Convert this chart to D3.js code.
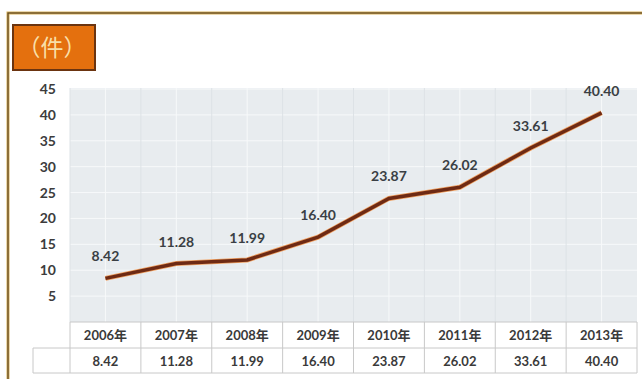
<!DOCTYPE html>
<html>
<head>
<meta charset="utf-8">
<script src="https://cdn.jsdelivr.net/npm/d3@7"></script>
<style>
  body { margin: 0; background: #fff; }
  svg { display: block; }
</style>
</head>
<body>
<div id="chart"></div>
<script>
// data
const years = ["2006年", "2007年", "2008年", "2009年", "2010年", "2011年", "2012年", "2013年"];
const counts = [8.42, 11.28, 11.99, 16.40, 23.87, 26.02, 33.61, 40.40];
const yTicks = [5, 10, 15, 20, 25, 30, 35, 40, 45];
const unitLabel = "（件）";

const W = 642, H = 379;
const font = "Lato, 'Noto Sans CJK SC', sans-serif";

const svg = d3.select("#chart").append("svg")
  .attr("width", W)
  .attr("height", H);

// outer frame
svg.append("rect")
  .attr("x", 8).attr("y", 13)
  .attr("width", W).attr("height", H)
  .attr("fill", "#fff")
  .attr("stroke", "#d9b25a").attr("stroke-width", 3);
svg.append("rect")
  .attr("x", 8).attr("y", 13)
  .attr("width", W).attr("height", H)
  .attr("fill", "none")
  .attr("stroke", "#5a4422").attr("stroke-width", 1.2);

const plotLeft = 70, plotRight = 637, plotTop = 88, plotBottom = 322;

const x = d3.scaleBand()
  .domain(years)
  .range([plotLeft, plotRight]);

const y = d3.scaleLinear()
  .domain([0, 45])
  .range([plotBottom, 89]);

// plot background
svg.append("rect")
  .attr("x", plotLeft).attr("y", plotTop)
  .attr("width", plotRight - plotLeft).attr("height", plotBottom - plotTop)
  .attr("fill", "#e8ecef");

// grid lines
const grid = svg.append("g").attr("stroke", "#f7f9fa").attr("stroke-width", 1);
grid.selectAll("line.h")
  .data(yTicks)
  .enter().append("line")
  .attr("x1", plotLeft).attr("x2", plotRight)
  .attr("y1", d => y(d)).attr("y2", d => y(d));
grid.selectAll("line.v")
  .data(years)
  .enter().append("line")
  .attr("x1", d => x(d) + x.bandwidth() / 2).attr("x2", d => x(d) + x.bandwidth() / 2)
  .attr("y1", plotTop).attr("y2", plotBottom);
grid.selectAll("line.b")
  .data(years)
  .enter().append("line")
  .attr("x1", d => x(d)).attr("x2", d => x(d))
  .attr("y1", plotTop).attr("y2", plotBottom)
  .attr("stroke", "#dde2e6");

// y axis labels
const yAxis = svg.append("g")
  .attr("transform", `translate(56,0)`)
  .call(d3.axisLeft(y).tickValues(yTicks).tickSize(0).tickPadding(0));
yAxis.select(".domain").remove();
yAxis.selectAll("text")
  .style("font-family", font)
  .style("font-size", "14px")
  .style("font-weight", "bold")
  .attr("fill", "#3c3c3c");

// line
const line = d3.line()
  .x((d, i) => x(years[i]) + x.bandwidth() / 2)
  .y(d => y(d));

svg.append("path")
  .datum(counts)
  .attr("fill", "none")
  .attr("stroke", "#f0a060")
  .attr("stroke-width", 5)
  .attr("d", line);
svg.append("path")
  .datum(counts)
  .attr("fill", "none")
  .attr("stroke", "#6e2a14")
  .attr("stroke-width", 3.5)
  .attr("d", line);

// data labels
svg.selectAll("text.val")
  .data(counts)
  .enter().append("text")
  .attr("class", "val")
  .attr("x", (d, i) => x(years[i]) + x.bandwidth() / 2)
  .attr("y", d => y(d) - 17)
  .attr("text-anchor", "middle")
  .style("font-family", font)
  .style("font-size", "14px")
  .style("font-weight", "bold")
  .attr("fill", "#3a3f44")
  .text(d => d.toFixed(2));

// data table
const rowTop = 322, rowMid = 348, rowBottom = 373, tableLeft = 33;
const tbl = svg.append("g").attr("stroke", "#c8c8c8").attr("stroke-width", 1);
tbl.append("line").attr("x1", plotLeft).attr("x2", plotRight).attr("y1", rowTop).attr("y2", rowTop);
tbl.append("line").attr("x1", tableLeft).attr("x2", plotRight).attr("y1", rowMid).attr("y2", rowMid);
tbl.append("line").attr("x1", tableLeft).attr("x2", plotRight).attr("y1", rowBottom).attr("y2", rowBottom);
tbl.append("line").attr("x1", tableLeft).attr("x2", tableLeft).attr("y1", rowMid).attr("y2", rowBottom);
tbl.selectAll("line.col")
  .data(years)
  .enter().append("line")
  .attr("x1", d => x(d)).attr("x2", d => x(d))
  .attr("y1", rowTop).attr("y2", rowBottom);
tbl.append("line").attr("x1", plotRight).attr("x2", plotRight).attr("y1", rowTop).attr("y2", rowBottom);

svg.selectAll("text.yr")
  .data(years)
  .enter().append("text")
  .attr("x", d => x(d) + x.bandwidth() / 2)
  .attr("y", (rowTop + rowMid) / 2 + 5)
  .attr("text-anchor", "middle")
  .style("font-family", font)
  .style("font-size", "13px")
  .style("font-weight", "bold")
  .attr("fill", "#3a3a3a")
  .text(d => d);

svg.selectAll("text.tv")
  .data(counts)
  .enter().append("text")
  .attr("x", (d, i) => x(years[i]) + x.bandwidth() / 2)
  .attr("y", (rowMid + rowBottom) / 2 + 5)
  .attr("text-anchor", "middle")
  .style("font-family", font)
  .style("font-size", "13px")
  .style("font-weight", "bold")
  .attr("fill", "#3a3a3a")
  .text(d => d.toFixed(2));

// unit box
svg.append("rect")
  .attr("x", 13).attr("y", 25)
  .attr("width", 82).attr("height", 45)
  .attr("fill", "#e4700e")
  .attr("stroke", "#6b3410").attr("stroke-width", 2);
svg.append("text")
  .attr("x", 52).attr("y", 56)
  .attr("text-anchor", "middle")
  .style("font-family", "'Noto Sans CJK SC', sans-serif")
  .style("font-size", "23px")
  .attr("fill", "#f8dfa8")
  .text(unitLabel);
</script>
</body>
</html>
